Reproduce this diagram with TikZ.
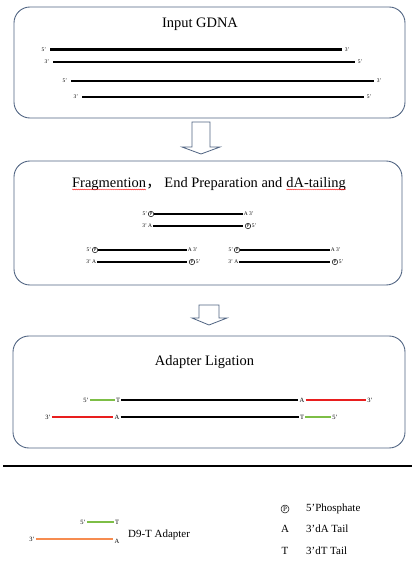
\documentclass[tikz,border=0pt]{standalone}
\usepackage{fontspec}
\setmainfont{Liberation Serif}
\newfontfamily\cjk{Noto Sans CJK SC}
\usetikzlibrary{positioning,decorations.pathmorphing}

\definecolor{boxblue}{RGB}{80,100,130}
\definecolor{adred}{RGB}{232,30,30}
\definecolor{adgreen}{RGB}{125,190,70}
\definecolor{adorange}{RGB}{246,140,80}

\tikzset{
  stepbox/.style={draw=boxblue, line width=0.9pt, rounded corners=16pt},
  flow/.style={draw=boxblue, line width=0.8pt, fill=white},
  strand/.style={line width=1.8pt},
  adline/.style={line width=1.4bp},
  title/.style={font=\fontsize{14.5}{16}\selectfont, inner sep=0pt},
  spellwave/.style={red, line width=0.3pt, decorate,
    decoration={snake, amplitude=0.45pt, segment length=2pt}},
  endlab/.style={font=\fontsize{5.5}{6}\selectfont, inner sep=0.6pt},
  adlab/.style={font=\fontsize{6.5}{7}\selectfont, inner sep=1pt},
  pcirc/.style={circle, draw, line width=0.5pt, inner sep=0pt, minimum size=5.5pt,
    font=\fontsize{4.5}{5}\selectfont},
  legend/.style={font=\fontsize{11}{12}\selectfont, inner sep=0pt},
}

% one double-stranded fragment: name, left x, right x, y of top strand
\newcommand{\frag}[4]{%
  \coordinate (#1ta) at (#2,#4);
  \coordinate (#1tb) at (#3,#4);
  \coordinate (#1ba) at (#2-1,#4+12);
  \coordinate (#1bb) at (#3,#4+12);
  \node[pcirc, left=0pt of #1ta] (#1tp) {P};
  \node[endlab, left=0pt of #1tp] (#1t5) {5'};
  \node[endlab, right=0pt of #1tb] (#1t3) {A 3'};
  \node[endlab, left=0pt of #1ba] (#1b3) {3' A};
  \node[pcirc, right=2pt of #1bb] (#1bp) {P};
  \node[endlab, right=0pt of #1bp] (#1b5) {5'};
  \draw[strand] (#1tp) -- (#1tb);
  \draw[strand] (#1b3) -- (#1bb);
}

\begin{document}
\begin{tikzpicture}[x=1bp, y=-1bp]
\useasboundingbox (0,0) rectangle (416,564);

% step 1
\draw[stepbox] (14,7) rectangle (405,118);
\node[title] (t1) at (200,24) {Input GDNA};
\foreach \n/\xa/\xb/\y/\la/\lb in {1/50/342/49.5/5'/3', 2/53/355/62/3'/5',
                                   3/71/374/81/5'/3', 4/82/364/97/3'/5'}{
  \coordinate (ga\n) at (\xa,\y);
  \coordinate (gb\n) at (\xb,\y);
  \node[endlab, left=3pt of ga\n] (gla\n) {\la};
  \node[endlab, right=2pt of gb\n] (glb\n) {\lb};
  \draw[strand, line width=2.2bp] (ga\n) -- (gb\n);
}

% arrow 1
\draw[flow] (192,122) -- (210,122) -- (210,147) -- (220,147) -- (201,154)
  -- (182,147) -- (192,147) -- cycle;

% step 2
\draw[stepbox] (14,161) rectangle (402,285);
\node[title, anchor=base west] (t2a) at (72,187) {Fragmention};
\node[title, anchor=base west] (t2b) at (t2a.base east) {{\cjk ，} End Preparation and};
\node[title, anchor=base west] (t2c) at ([xshift=3.6pt]t2b.base east) {dA-tailing};
\draw[spellwave] ([yshift=-2.5pt]t2a.base west) -- ([yshift=-2.5pt]t2a.base east);
\draw[spellwave] ([yshift=-2.5pt]t2c.base west) -- ([yshift=-2.5pt]t2c.base east);
\frag{fa}{154}{243}{214}
\frag{fb}{98}{187}{250}
\frag{fc}{240}{330}{250}

% arrow 2
\draw[flow] (199,305) -- (219,305) -- (219,318) -- (227,318) -- (209,325)
  -- (192,318) -- (199,318) -- cycle;

% step 3
\draw[stepbox] (13,336) rectangle (405,448);
\node[title] (t3) at (204.5,362) {Adapter Ligation};
\node[adlab] (uT) at (118,400) {T};
\node[adlab] (u5) at (86,400) {5'};
\node[adlab] (uA) at (302,400) {A};
\node[adlab] (u3) at (370,400) {3'};
\node[adlab] (dA) at (117,417) {A};
\node[adlab] (d3) at (48,417) {3'};
\node[adlab] (dT) at (302,417) {T};
\node[adlab] (d5) at (335,417) {5'};
\draw[strand] (uT) -- (uA);
\draw[strand] (dA) -- (dT);
\draw[adline, adgreen] (u5) -- (uT);
\draw[adline, adred] (uA) -- (u3);
\draw[adline, adred] (d3) -- (dA);
\draw[adline, adgreen] (dT) -- (d5);

% separator
\draw[line width=2bp] (3,466) -- (412,466);

% legend
\node[adlab] (k5) at (83,522) {5'};
\node[adlab] (kT) at (117,522) {T};
\node[adlab] (k3) at (32,539) {3'};
\node[adlab] (kA) at (117,541.5) {A};
\draw[adline, adgreen] (k5) -- (kT);
\draw[adline, adorange] (k3) -- (k3 -| kA.west);
\node[legend, anchor=west] (kad) at (128,535) {D9-T Adapter};

\node[pcirc, minimum size=8pt, font=\fontsize{7}{7}\selectfont] (kp) at (285,509) {P};
\node[legend, anchor=west] (kpt) at (306,509) {5'Phosphate};
\node[legend] (ka) at (285,529) {A};
\node[legend, anchor=west] (kat) at (306,529) {3'dA Tail};
\node[legend] (kt) at (285,551) {T};
\node[legend, anchor=west] (ktt) at (306,551) {3'dT Tail};

\end{tikzpicture}
\end{document}
